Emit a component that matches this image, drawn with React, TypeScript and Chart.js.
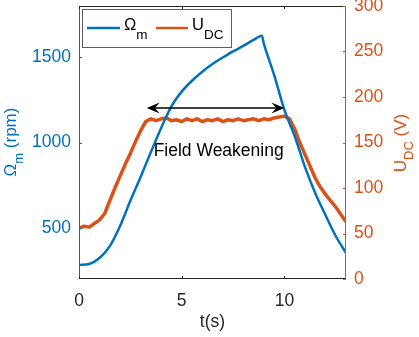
import React, { useEffect, useRef } from "react";
import { Chart, registerables } from "chart.js";

Chart.register(...registerables);

// ---- Data ----
const TIME_OMEGA = [0, 0.5, 1, 1.5, 2, 2.5, 3, 3.5, 4, 4.5, 5, 5.5, 6, 6.5, 7, 7.5, 8, 8.5, 8.9, 9, 9.5, 10, 10.5, 11, 11.5, 12, 12.5, 13];
const OMEGA = [282, 288, 323, 393, 511, 658, 798, 944, 1085, 1212, 1298, 1362, 1415, 1460, 1498, 1534, 1566, 1601, 1625, 1580, 1396, 1191, 1038, 857, 704, 575, 452, 352];

const TIME_UDC = [
  0, 0.25, 0.5, 0.75, 1, 1.25, 1.5, 1.75, 2, 2.25, 2.5, 2.75, 3,
  3.25, 3.5, 3.75, 4, 4.25, 4.5, 4.75, 5, 5.25, 5.5, 5.75, 6, 6.25, 6.5, 6.75,
  7, 7.25, 7.5, 7.75, 8, 8.25, 8.5, 8.75, 9, 9.25, 9.5, 9.75, 10,
  10.25, 10.5, 10.75, 11, 11.25, 11.5, 11.75, 12, 12.25, 12.5, 12.75, 13,
];
const UDC = [
  56, 58, 57, 61, 65, 72, 86, 100, 113, 126, 138, 151, 163,
  173, 176, 174, 176, 177, 174, 175, 173, 176, 174, 176, 173, 175, 174, 176,
  173, 175, 174, 176, 174, 175, 176, 174, 176, 175, 177, 178, 179,
  176, 165, 150, 137, 124, 111, 101, 93, 86, 79, 71, 63,
];

const X_TICKS = [0, 5, 10];
const LEFT_TICKS = [500, 1000, 1500];
const RIGHT_TICKS = [0, 50, 100, 150, 200, 250, 300];

const ARROW_START = 3.3;
const ARROW_END = 10.0;
const ARROW_LEVEL = 188; // on U_DC axis
const NOTE_X = 6.8;
const NOTE_Y = 140; // on U_DC axis
const NOTE_TEXT = "Field Weakening";

const BLUE = "#0072BD";
const ORANGE = "#D95319";
const GRAY = "#262626";
const FONT = "'Liberation Sans', Arial, Helvetica, sans-serif";

type Part = { t: string; sub?: boolean };

function drawRich(
  ctx: CanvasRenderingContext2D,
  parts: Part[],
  x: number,
  y: number,
  size: number,
  subSize: number,
  subDrop: number,
  color: string,
  align: "center" | "left"
) {
  let total = 0;
  const widths = parts.map((p) => {
    ctx.font = `${p.sub ? subSize : size}px ${FONT}`;
    const w = ctx.measureText(p.t).width;
    total += w;
    return w;
  });
  let cx = align === "center" ? x - total / 2 : x;
  ctx.fillStyle = color;
  ctx.textAlign = "left";
  ctx.textBaseline = "alphabetic";
  parts.forEach((p, i) => {
    ctx.font = `${p.sub ? subSize : size}px ${FONT}`;
    ctx.fillText(p.t, cx, y + (p.sub ? subDrop : 0));
    cx += widths[i];
  });
}

const overlay = {
  id: "overlay",
  afterDatasetsDraw(chart: any) {
    const { ctx, chartArea: a, scales } = chart;
    const xs = scales.x;
    const yl = scales.y;
    const yr = scales.y1;
    ctx.save();

    // frame
    ctx.lineWidth = 1;
    ctx.strokeStyle = GRAY;
    ctx.beginPath();
    ctx.moveTo(a.left, a.top + 0.5);
    ctx.lineTo(a.right, a.top + 0.5);
    ctx.moveTo(a.left, a.bottom - 0.5);
    ctx.lineTo(a.right, a.bottom - 0.5);
    ctx.stroke();
    ctx.strokeStyle = BLUE;
    ctx.beginPath();
    ctx.moveTo(a.left + 0.5, a.top);
    ctx.lineTo(a.left + 0.5, a.bottom);
    ctx.stroke();
    ctx.strokeStyle = ORANGE;
    ctx.beginPath();
    ctx.moveTo(a.right - 0.5, a.top);
    ctx.lineTo(a.right - 0.5, a.bottom);
    ctx.stroke();

    // inward ticks
    const TL = 3;
    ctx.strokeStyle = GRAY;
    ctx.beginPath();
    X_TICKS.forEach((v) => {
      const px = Math.round(xs.getPixelForValue(v)) + 0.5;
      ctx.moveTo(px, a.bottom);
      ctx.lineTo(px, a.bottom - TL);
      ctx.moveTo(px, a.top);
      ctx.lineTo(px, a.top + TL);
    });
    ctx.stroke();
    ctx.strokeStyle = BLUE;
    ctx.beginPath();
    LEFT_TICKS.forEach((v) => {
      const py = Math.round(yl.getPixelForValue(v)) + 0.5;
      ctx.moveTo(a.left, py);
      ctx.lineTo(a.left + TL, py);
    });
    ctx.stroke();
    ctx.strokeStyle = ORANGE;
    ctx.beginPath();
    RIGHT_TICKS.forEach((v) => {
      const py = Math.round(yr.getPixelForValue(v)) + 0.5;
      ctx.moveTo(a.right, py);
      ctx.lineTo(a.right - TL, py);
    });
    ctx.stroke();

    // double arrow
    const x1 = xs.getPixelForValue(ARROW_START);
    const x2 = xs.getPixelForValue(ARROW_END);
    const ay = yr.getPixelForValue(ARROW_LEVEL);
    ctx.strokeStyle = "#000";
    ctx.fillStyle = "#000";
    ctx.lineWidth = 1.5;
    ctx.beginPath();
    ctx.moveTo(x1 + 6, ay);
    ctx.lineTo(x2 - 6, ay);
    ctx.stroke();
    const head = (tip: number, dir: number) => {
      const L = 13;
      const W = 5.5;
      ctx.beginPath();
      ctx.moveTo(tip, ay);
      ctx.lineTo(tip - dir * L, ay - W);
      ctx.lineTo(tip - dir * L * 0.62, ay);
      ctx.lineTo(tip - dir * L, ay + W);
      ctx.closePath();
      ctx.fill();
    };
    head(x1, -1);
    head(x2, 1);

    // annotation text
    ctx.font = `17.5px ${FONT}`;
    ctx.fillStyle = "#000";
    ctx.textAlign = "center";
    ctx.textBaseline = "middle";
    ctx.fillText(NOTE_TEXT, xs.getPixelForValue(NOTE_X), yr.getPixelForValue(NOTE_Y));

    // legend
    const lx = 82.5, ly = 9.5, lw = 149, lh = 38;
    ctx.fillStyle = "#fff";
    ctx.fillRect(lx, ly, lw, lh);
    ctx.strokeStyle = "rgba(38,38,38,0.75)";
    ctx.lineWidth = 1;
    ctx.strokeRect(lx, ly, lw, lh);
    ctx.lineWidth = 2.5;
    ctx.strokeStyle = BLUE;
    ctx.beginPath();
    ctx.moveTo(87, 28);
    ctx.lineTo(120, 28);
    ctx.stroke();
    ctx.strokeStyle = ORANGE;
    ctx.beginPath();
    ctx.moveTo(156, 28);
    ctx.lineTo(188, 28);
    ctx.stroke();
    drawRich(ctx, [{ t: "\u03A9" }, { t: "m", sub: true }], 124, 30, 16.5, 13.5, 9, "#000", "left");
    drawRich(ctx, [{ t: "U" }, { t: "DC", sub: true }], 192, 30, 16.5, 13.5, 9, "#000", "left");

    // axis titles
    ctx.save();
    ctx.translate(16, 142);
    ctx.rotate(-Math.PI / 2);
    drawRich(ctx, [{ t: "\u03A9" }, { t: "m", sub: true }, { t: " (rpm)" }], 0, 0, 17, 13, 7, BLUE, "center");
    ctx.restore();

    ctx.save();
    ctx.translate(406, 143);
    ctx.rotate(-Math.PI / 2);
    drawRich(ctx, [{ t: "U" }, { t: "DC", sub: true }, { t: " (V)" }], 0, 0, 17, 13, 7, ORANGE, "center");
    ctx.restore();

    ctx.font = `17.5px ${FONT}`;
    ctx.fillStyle = GRAY;
    ctx.textAlign = "center";
    ctx.textBaseline = "middle";
    ctx.fillText("t(s)", (a.left + a.right) / 2, 322);

    ctx.restore();
  },
};

const noPad = (s: any) => {
  s.paddingTop = 0;
  s.paddingBottom = 0;
  s.paddingLeft = 0;
  s.paddingRight = 0;
};

export default function App() {
  const ref = useRef<HTMLCanvasElement | null>(null);

  useEffect(() => {
    if (!ref.current) return;
    const tickFont = { family: FONT, size: 17.5 };
    const plain = (v: any) => String(v);
    const chart = new Chart(ref.current, {
      type: "line",
      data: {
        datasets: [
          {
            label: "\u03A9m",
            data: TIME_OMEGA.map((t, i) => ({ x: t, y: OMEGA[i] })),
            borderColor: BLUE,
            backgroundColor: BLUE,
            borderWidth: 2.5,
            pointRadius: 0,
            cubicInterpolationMode: "monotone",
            yAxisID: "y",
          },
          {
            label: "UDC",
            data: TIME_UDC.map((t, i) => ({ x: t, y: UDC[i] })),
            borderColor: ORANGE,
            backgroundColor: ORANGE,
            borderWidth: 3.5,
            borderJoinStyle: "round",
            pointRadius: 0,
            tension: 0,
            yAxisID: "y1",
          },
        ],
      },
      options: {
        animation: false,
        responsive: true,
        maintainAspectRatio: false,
        layout: { padding: { top: 6, left: 0, right: 0, bottom: 0 } },
        plugins: { legend: { display: false }, tooltip: { enabled: false } },
        scales: {
          x: {
            type: "linear",
            position: "bottom",
            min: 0,
            max: 13,
            grid: { display: false, drawTicks: false },
            border: { display: false },
            ticks: { font: tickFont, color: GRAY, padding: 11.5, maxRotation: 0, autoSkip: false, callback: plain },
            afterBuildTicks: (s: any) => {
              s.ticks = X_TICKS.map((v) => ({ value: v }));
            },
            afterFit: (s: any) => {
              s.height = 58;
              noPad(s);
            },
          },
          y: {
            type: "linear",
            position: "left",
            min: 200,
            max: 1800,
            grid: { display: false, drawTicks: false },
            border: { display: false },
            ticks: { font: tickFont, color: BLUE, padding: 8, autoSkip: false, callback: plain },
            afterBuildTicks: (s: any) => {
              s.ticks = LEFT_TICKS.map((v) => ({ value: v }));
            },
            afterFit: (s: any) => {
              s.width = 79;
              noPad(s);
            },
          },
          y1: {
            type: "linear",
            position: "right",
            min: 0,
            max: 300,
            grid: { display: false, drawTicks: false },
            border: { display: false },
            ticks: { font: tickFont, color: ORANGE, padding: 8, autoSkip: false, callback: plain },
            afterBuildTicks: (s: any) => {
              s.ticks = RIGHT_TICKS.map((v) => ({ value: v }));
            },
            afterFit: (s: any) => {
              s.width = 73;
              noPad(s);
            },
          },
        },
      } as any,
      plugins: [overlay],
    });
    return () => chart.destroy();
  }, []);

  return (
    <div style={{ position: "absolute", left: 0, top: 0, width: 419, height: 337, background: "#fff" }}>
      <canvas ref={ref} />
    </div>
  );
}
